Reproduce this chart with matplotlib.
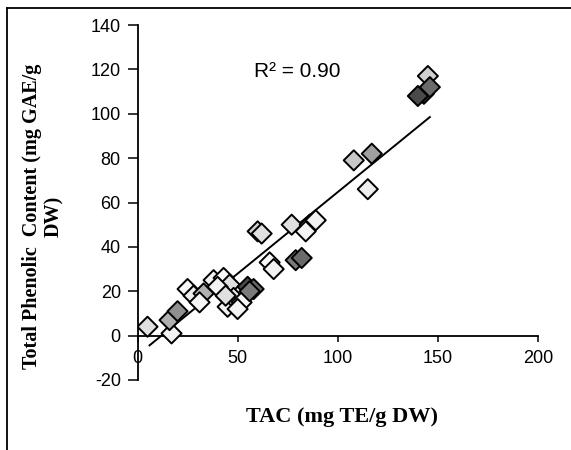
import numpy as np
import matplotlib
matplotlib.use("Agg")
import matplotlib.pyplot as plt
from matplotlib.lines import Line2D

plt.rcParams["axes.unicode_minus"] = False

# TAC (x) vs total phenolic content (y)
tac = [5, 17, 16, 20, 25, 28, 33, 31, 38, 43, 46, 40, 45, 48, 52, 44, 50,
       55, 58, 56, 60, 62, 66, 68, 79, 82, 77, 86, 89, 84, 115, 108, 117,
       145, 143, 140, 146]
tpc = [4, 1, 7, 11, 21, 18, 19, 15, 25, 26, 23, 22, 13, 17, 15, 18, 12,
       22, 21, 20, 47, 46, 33, 30, 34, 35, 50, 50, 52, 47, 66, 79, 82,
       117, 109, 108, 112]
shade = ["#e0e0e0", "#f2f2f2", "#b0b0b0", "#909090", "#f7f7f7", "#eeeeee",
         "#b0b0b0", "#f4f4f4", "#f2f2f2", "#f7f7f7", "#e0e0e0", "#f4f4f4",
         "#f2f2f2", "#eeeeee", "#f7f7f7", "#e0e0e0", "#f4f4f4",
         "#4a4a4a", "#6a6a6a", "#7a7a7a", "#d0d0d0", "#e0e0e0", "#f7f7f7",
         "#f2f2f2", "#7a7a7a", "#6a6a6a", "#e0e0e0", "#f7f7f7", "#f2f2f2",
         "#f4f4f4", "#eeeeee", "#c8c8c8", "#a0a0a0", "#d0d0d0", "#3a3a3a",
         "#4a4a4a", "#6a6a6a"]

# trend line as printed on the chart (slope, intercept)
trend_k = 0.735
trend_b = -8.8

xticks = [0, 50, 100, 150, 200]
yticks = [-20, 0, 20, 40, 60, 80, 100, 120, 140]

fig = plt.figure(figsize=(5.71, 4.5), dpi=100)
ax = fig.add_axes([137.5 / 571, 1 - 380 / 450, (538 - 137.5) / 571, (380 - 25) / 450])

xs = np.array([6, max(tac)])
ax.plot(xs, trend_k * xs + trend_b, color="black", lw=1.4, zorder=2)

ax.scatter(tac, tpc, marker="D", s=105, c=shade, edgecolors="black",
           linewidths=1.4, zorder=3)

ax.set_xlim(0, 200)
ax.set_ylim(-20, 140)
ax.set_xticks(xticks)
ax.set_yticks(yticks)

ax.spines["top"].set_visible(False)
ax.spines["right"].set_visible(False)
ax.spines["bottom"].set_position(("data", 0))
ax.spines["left"].set_linewidth(1.3)
ax.spines["bottom"].set_linewidth(1.3)

ax.tick_params(axis="y", direction="out", length=7, width=1.1, pad=5,
               labelsize=13)
ax.tick_params(axis="x", direction="out", length=4, width=1.1, pad=6,
               labelsize=13)
for lab in ax.get_xticklabels() + ax.get_yticklabels():
    lab.set_fontfamily("Liberation Sans")

ax.text(58, 119, "R² = 0.90", fontsize=15, family="Liberation Sans",
        va="center", ha="left")

fig.text(342 / 571, 1 - 417 / 450, "TAC (mg TE/g DW)", ha="center",
         va="center", fontsize=16, fontweight="bold",
         family="Liberation Serif")
fig.text(43 / 571, 1 - 216 / 450, "Total Phenolic  Content (mg GAE/g\nDW)",
         ha="center", va="center", rotation=90, fontsize=14.5,
         fontweight="bold", family="Liberation Serif", linespacing=1.1)

# frame around the picture (top and left edges only are visible)
fig.add_artist(Line2D([7 / 571, 7 / 571], [0, 1 - 8 / 450],
                      transform=fig.transFigure, color="black", lw=1.3))
fig.add_artist(Line2D([7 / 571, 1], [1 - 8 / 450, 1 - 8 / 450],
                      transform=fig.transFigure, color="black", lw=1.3))

fig.savefig("out.png", dpi=100)
